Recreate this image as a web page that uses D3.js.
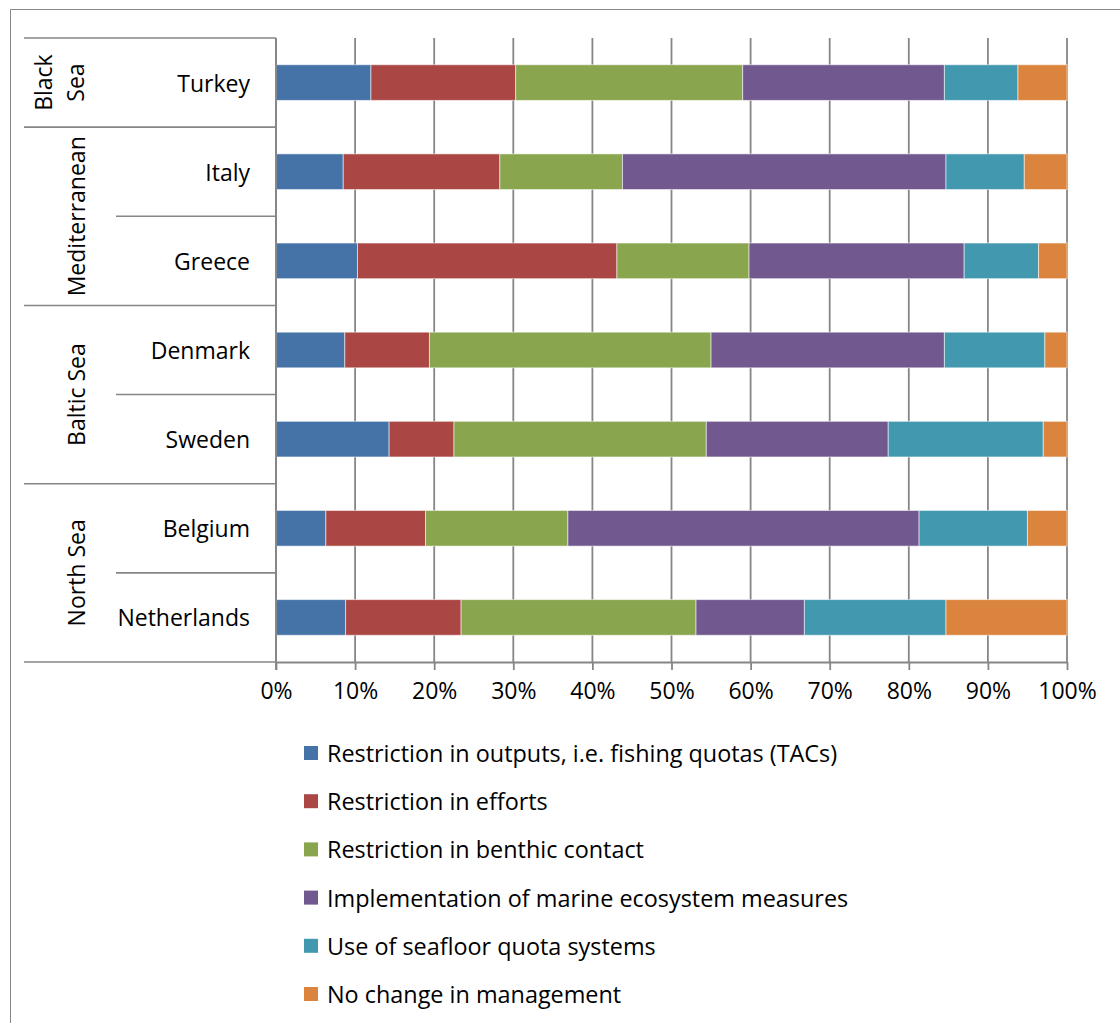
<!DOCTYPE html>
<html>
<head>
<meta charset="utf-8">
<script src="https://cdn.jsdelivr.net/npm/d3@7"></script>
<style>
    body { margin: 0; background: #fff; }
    svg text { font-family: "Open Sans", Lato, sans-serif; fill: #000; }
</style>
</head>
<body>
<svg id="chart"></svg>
<script>
// base settings
const width = 1120;
const height = 1023;

// countries from top to bottom, with the sea each one belongs to
const countries = ['Turkey', 'Italy', 'Greece', 'Denmark', 'Sweden', 'Belgium', 'Netherlands'];
const seas = ['Black Sea', 'Mediterranean', 'Mediterranean', 'Baltic Sea', 'Baltic Sea', 'North Sea', 'North Sea'];

// series names (legend order)
const series = [
    'Restriction in outputs, i.e. fishing quotas (TACs)',
    'Restriction in efforts',
    'Restriction in benthic contact',
    'Implementation of marine ecosystem measures',
    'Use of seafloor quota systems',
    'No change in management'
];

// shares in % per country, same order as countries
const outputs    = [12.0,  8.5, 10.3,  8.7, 14.3,  6.3,  8.8];
const efforts    = [18.3, 19.8, 32.8, 10.7,  8.2, 12.6, 14.6];
const benthic    = [28.7, 15.5, 16.7, 35.6, 31.9, 18.0, 29.7];
const ecosystem  = [25.5, 40.9, 27.2, 29.5, 23.0, 44.4, 13.7];
const seafloor   = [ 9.3,  9.9,  9.4, 12.7, 19.6, 13.7, 17.9];
const noChange   = [ 6.2,  5.4,  3.6,  2.8,  3.0,  5.0, 15.3];

const xTicks = [0, 10, 20, 30, 40, 50, 60, 70, 80, 90, 100];
const colors = ['#4572A7', '#AA4643', '#89A54E', '#71588F', '#4198AF', '#DB843D'];

const gridColor = '#868686';
const fontSize = 23;
const legendFontSize = 23.4;

// plot area
const plot = { left: 276, right: 1067, top: 38, bottom: 662 };

const svg = d3.select('#chart')
    .attr('width', width).attr('height', height);

const x = d3.scaleLinear().domain([0, 100]).range([plot.left, plot.right]);
// one row per country, no padding -> used for the category separators and labels
const row = d3.scaleBand().domain(countries).range([plot.top, plot.bottom]);
// bars take 40% of each row (gap width 150%)
const bar = d3.scaleBand().domain(countries).range([plot.top, plot.bottom])
    .paddingInner(0.6).paddingOuter(0.3);

drawFrame();
drawGrid();
drawBars();
drawCategoryAxis();
drawValueAxis();
drawLegend();

/**
 * thin border round the chart (right and bottom fall outside the picture)
 */
function drawFrame() {
    svg.append('path')
        .attr('d', `M10.5,${height} V9.5 H${width}`)
        .attr('fill', 'none')
        .attr('stroke', gridColor)
        .attr('stroke-width', 1);
}

/**
 * vertical grid lines at every 10%
 */
function drawGrid() {
    svg.append('g')
        .selectAll('line')
        .data(xTicks)
        .enter().append('line')
        .attr('x1', d => x(d)).attr('x2', d => x(d))
        .attr('y1', plot.top).attr('y2', plot.bottom)
        .attr('stroke', gridColor)
        .attr('stroke-width', 1.8);
}

/**
 * 100% stacked bars
 */
function drawBars() {
    const table = countries.map((c, i) => ({
        country: c,
        s0: outputs[i], s1: efforts[i], s2: benthic[i],
        s3: ecosystem[i], s4: seafloor[i], s5: noChange[i]
    }));
    const stacked = d3.stack().keys(['s0', 's1', 's2', 's3', 's4', 's5'])(table);

    svg.append('g')
        .selectAll('g')
        .data(stacked)
        .enter().append('g')
        .attr('fill', (d, i) => colors[i])
        .selectAll('rect')
        .data(d => d)
        .enter().append('rect')
        .attr('x', d => x(d[0]))
        .attr('width', d => x(d[1]) - x(d[0]))
        .attr('y', d => bar(d.data.country))
        .attr('height', bar.bandwidth())
        .attr('stroke', 'rgba(255,255,255,0.55)')
        .attr('stroke-width', 1);
}

/**
 * two level category axis: countries and, left of them, the seas
 */
function drawCategoryAxis() {
    const g = svg.append('g');

    // axis line with tick marks
    g.append('line')
        .attr('x1', plot.left).attr('x2', plot.left)
        .attr('y1', plot.top).attr('y2', plot.bottom + 8)
        .attr('stroke', gridColor).attr('stroke-width', 1.8);

    // separators between countries of the same sea
    const inner = countries.slice(1).filter((c, i) => seas[i + 1] === seas[i]);
    g.selectAll('.inner')
        .data(inner)
        .enter().append('line')
        .attr('class', 'inner')
        .attr('x1', 116).attr('x2', plot.left)
        .attr('y1', d => row(d)).attr('y2', d => row(d))
        .attr('stroke', gridColor).attr('stroke-width', 1.6);

    // separators between seas (plus top and bottom)
    const seaGroups = d3.groups(countries.map((c, i) => ({ c, sea: seas[i] })), d => d.sea);
    const bounds = [plot.top].concat(seaGroups.map(([, list]) => row(list[list.length - 1].c) + row.bandwidth()));
    g.selectAll('.outer')
        .data(bounds)
        .enter().append('line')
        .attr('class', 'outer')
        .attr('x1', 24).attr('x2', plot.left)
        .attr('y1', d => d).attr('y2', d => d)
        .attr('stroke', gridColor).attr('stroke-width', 1.6);

    // country names
    g.selectAll('.country')
        .data(countries)
        .enter().append('text')
        .attr('class', 'country')
        .attr('x', 250)
        .attr('y', d => row(d) + row.bandwidth() / 2)
        .attr('text-anchor', 'end')
        .attr('dominant-baseline', 'central')
        .style('font-size', fontSize + 'px')
        .text(d => d);

    // sea names, rotated; long names on two lines when the group has only one row
    seaGroups.forEach(([sea, list]) => {
        const top = row(list[0].c);
        const bottom = row(list[list.length - 1].c) + row.bandwidth();
        const cy = (top + bottom) / 2;
        const lines = list.length === 1 ? sea.split(' ') : [sea];
        const cx = lines.length === 1 ? 76 : 59;
        const t = g.append('text')
            .attr('transform', `translate(${cx},${cy}) rotate(-90)`)
            .attr('text-anchor', 'middle')
            .attr('dominant-baseline', 'central')
            .style('font-size', fontSize + 'px');
        lines.forEach((l, i) => {
            t.append('tspan')
                .attr('x', 0)
                .attr('y', (i - (lines.length - 1) / 2) * 32)
                .text(l);
        });
    });
}

/**
 * percentage axis under the bars
 */
function drawValueAxis() {
    const axis = d3.axisBottom(x)
        .tickValues(xTicks)
        .tickFormat(d => d + '%')
        .tickSize(8)
        .tickPadding(13);

    const g = svg.append('g')
        .attr('transform', `translate(0,${plot.bottom})`)
        .call(axis);
    g.select('.domain')
        .attr('d', `M${plot.left},0.5H${plot.right}`)
        .attr('stroke', gridColor).attr('stroke-width', 1.8);
    g.selectAll('.tick line').attr('stroke', gridColor).attr('stroke-width', 1.8);
    g.selectAll('.tick text')
        .style('font-size', fontSize + 'px')
        .style('font-family', '"Open Sans", Lato, sans-serif')
        .attr('fill', '#000');
}

/**
 * legend below the chart, one entry per line
 */
function drawLegend() {
    const item = svg.append('g')
        .selectAll('g')
        .data(series)
        .enter().append('g')
        .attr('transform', (d, i) => `translate(304,${753 + i * 48.2})`);

    item.append('rect')
        .attr('x', 0).attr('y', -7)
        .attr('width', 14).attr('height', 14)
        .attr('fill', (d, i) => colors[i]);

    item.append('text')
        .attr('x', 23)
        .attr('dominant-baseline', 'central')
        .style('font-size', legendFontSize + 'px')
        .text(d => d);
}
</script>
</body>
</html>
